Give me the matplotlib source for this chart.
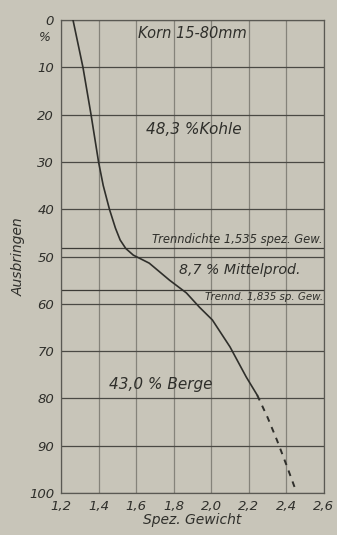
import matplotlib
matplotlib.use("Agg")
import matplotlib.pyplot as plt

# Spez. Gewicht vs. Ausbringen
density_solid = [1.264, 1.317, 1.36, 1.40, 1.425, 1.458, 1.49, 1.515, 1.545, 1.585,
                 1.67, 1.778, 1.868, 1.937, 2.006, 2.10, 2.187, 2.245]
yield_solid = [0, 10, 20, 30, 35.0, 40.0, 44.0, 46.5, 48.3, 49.7,
               51.4, 55.0, 57.7, 60.7, 63.4, 69.1, 75.5, 79.3]
density_dashed = [2.245, 2.30, 2.35, 2.40, 2.45]
yield_dashed = [79.3, 84.0, 88.8, 94.0, 99.4]

x_ticks = [1.2, 1.4, 1.6, 1.8, 2.0, 2.2, 2.4, 2.6]
x_labels = ["1,2", "1,4", "1,6", "1,8", "2,0", "2,2", "2,4", "2,6"]
y_ticks = [0, 10, 20, 30, 40, 50, 60, 70, 80, 90, 100]
cut_lines = [48.3, 57.0]

bg = "#c8c5b9"
ink = "#2f2f2b"

fig = plt.figure(figsize=(3.37, 5.35), dpi=100, facecolor=bg)
ax = fig.add_axes([0.181, 0.0785, 0.780, 0.884], facecolor=bg)

ax.set_xlim(1.2, 2.6)
ax.set_ylim(100, 0)

for x in x_ticks:
    ax.axvline(x, color="#85837a", lw=0.9, zorder=1)
for y in y_ticks:
    ax.axhline(y, color="#4a4944", lw=0.9, zorder=1)
for y in cut_lines:
    ax.axhline(y, color="#3c3b36", lw=0.9, zorder=1)

ax.plot(density_solid, yield_solid, color=ink, lw=1.2, zorder=3)
ax.plot(density_dashed, yield_dashed, color=ink, lw=1.4, ls=(0, (3, 3)), zorder=3)

for s in ax.spines.values():
    s.set_color("#5a5953")
    s.set_linewidth(0.9)

ax.set_xticks(x_ticks)
ax.set_xticklabels(x_labels)
ax.set_yticks(y_ticks)
ax.set_yticklabels([str(v) for v in y_ticks])
ax.tick_params(length=0, labelsize=9.5, labelcolor=ink, pad=5)
for lab in ax.get_xticklabels() + ax.get_yticklabels():
    lab.set_fontstyle("italic")

# "%" under the 0 of the y axis
ax.text(-0.04, 3.6, "%", transform=ax.get_yaxis_transform(), ha="right", va="center",
        fontsize=9, style="italic", color=ink)

ax.set_ylabel("Ausbringen", fontsize=10, style="italic", color=ink, labelpad=2)
ax.set_xlabel("Spez. Gewicht", fontsize=10, style="italic", color=ink, labelpad=0)

txt = dict(style="italic", color=ink, zorder=4)
ax.text(1.90, 2.8, "Korn 15-80mm", ha="center", va="center", fontsize=10.5, **txt)
ax.text(1.91, 23.2, "48,3 %Kohle", ha="center", va="center", fontsize=11, **txt)
ax.text(2.595, 46.5, "Trenndichte 1,535 spez. Gew.", ha="right", va="center",
        fontsize=8.3, **txt)
ax.text(2.15, 52.8, "8,7 % Mittelprod.", ha="center", va="center", fontsize=10.2, **txt)
ax.text(2.595, 58.6, "Trennd. 1,835 sp. Gew.", ha="right", va="center",
        fontsize=7.4, **txt)
ax.text(1.73, 77.0, "43,0 % Berge", ha="center", va="center", fontsize=11, **txt)

fig.savefig("out.png", dpi=100, facecolor=bg)
